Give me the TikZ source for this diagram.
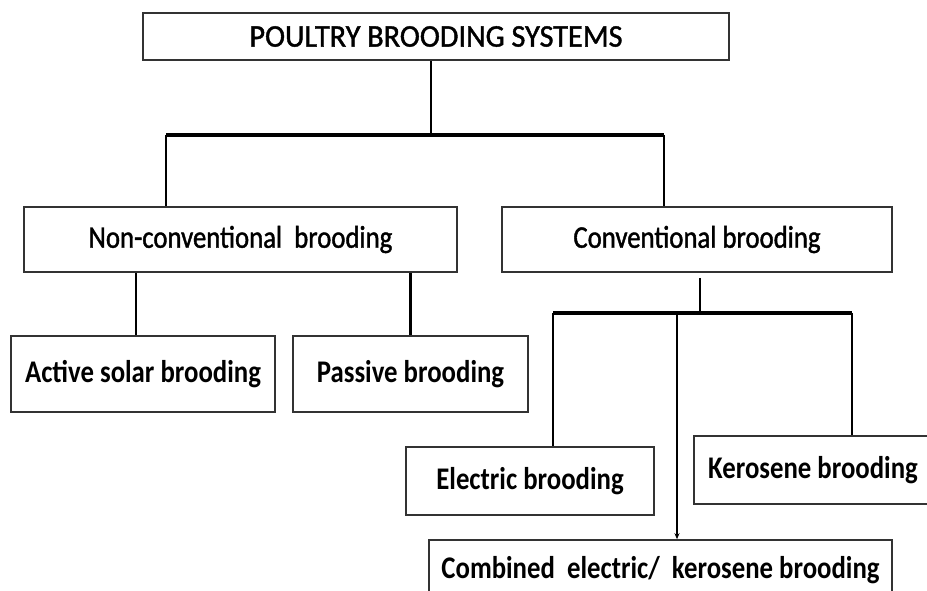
\documentclass[tikz,border=0pt]{standalone}
\usepackage{fontspec}
\setmainfont{Carlito}[FakeStretch=0.85, UprightFeatures={FakeBold=1.3}]
\newfontfamily\capsfont{Carlito}[FakeStretch=0.96, FakeBold=1.3]
\usetikzlibrary{arrows.meta}

\begin{document}
\begin{tikzpicture}
  [x=1pt, y=-1pt,
   box/.style={draw=black!80, line width=1.6pt, inner sep=0pt,
     font=\fontsize{31.5}{36}\selectfont},
   boldbox/.style={box, font=\fontsize{31.5}{36}\selectfont\bfseries},
   link/.style={line width=2.6pt},
   bar/.style={line width=4.5pt}]
  \useasboundingbox (0,0) rectangle (927,590);
  \clip (0,0) rectangle (927,590);

  % boxes
  \node[box, font=\fontsize{31.5}{36}\capsfont, minimum width=586pt, minimum height=47pt]
    (top) at (436,36.5) {POULTRY BROODING SYSTEMS};
  \node[box, minimum width=433pt, minimum height=65pt] (nonconv) at (240.5,239.5)
    {Non-conventional\ \ brooding};
  \node[box, minimum width=390pt, minimum height=65pt] (conv) at (697,239.5)
    {Conventional brooding};
  \node[boldbox, minimum width=264pt, minimum height=76pt] (active) at (143,374)
    {Active solar brooding};
  \node[boldbox, minimum width=235pt, minimum height=76pt] (passive) at (410.5,374)
    {Passive brooding};
  \node[boldbox, minimum width=248pt, minimum height=68pt] (electric) at (530,481)
    {Electric brooding};
  \node[boldbox, minimum width=238pt, minimum height=68pt] (kerosene) at (813,470)
    {Kerosene brooding};
  \node[boldbox, minimum width=463pt, minimum height=60pt] (combined) at (660.5,570)
    {Combined\ \ electric/\ \ kerosene brooding};

  % first split
  \coordinate (j1) at (431,135);
  \coordinate (j1l) at (166,135);
  \coordinate (j1r) at (664,135);
  \draw[link] (top.south -| j1) -- (j1);
  \draw[bar] (j1l) -- (j1r);
  \draw[link] (j1l) -- (j1l |- nonconv.north);
  \draw[link] (j1r) -- (j1r |- conv.north);

  % non-conventional
  \draw[link] ([xshift=-7pt]nonconv.south -| active.north) -- ([xshift=-7pt]active.north);
  \draw[link] (nonconv.south -| passive.north) -- (passive.north);

  % conventional
  \coordinate (j2) at (700,313);
  \coordinate (j2l) at (553,313);
  \coordinate (j2m) at (677,313);
  \coordinate (j2r) at (852,313);
  \draw[link] ([yshift=-5pt]conv.south -| j2) -- (j2);
  \draw[bar] (j2l) -- (j2r);
  \draw[link] (j2l) -- (j2l |- electric.north);
  \draw[link, -{Stealth[length=6pt,width=5pt]}] (j2m) -- (j2m |- combined.north);
  \draw[link] (j2r) -- (j2r |- kerosene.north);
\end{tikzpicture}
\end{document}
